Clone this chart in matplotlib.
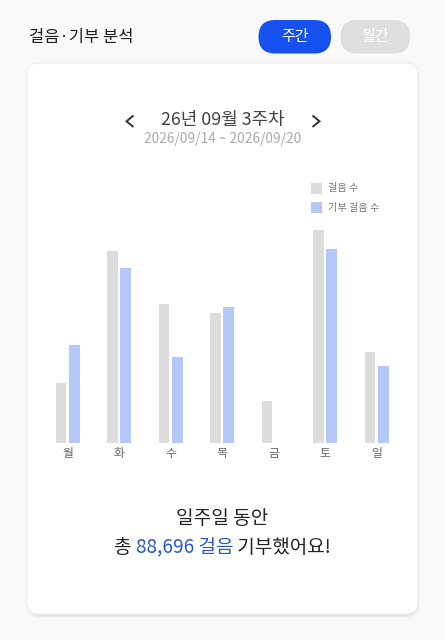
import matplotlib
matplotlib.use("Agg")
import matplotlib.pyplot as plt
from matplotlib.patches import FancyBboxPatch, Rectangle
import numpy as np

plt.rcParams['font.family'] = ['Noto Sans CJK KR', 'DejaVu Sans']

# ---- data ----
days = ["월", "화", "수", "목", "금", "토", "일"]
walk_steps = [6980, 22270, 16060, 15020, 4860, 24670, 10500]
donated_steps = [11350, 20230, 9990, 15710, 0, 22460, 8956]
legend_labels = ["걸음 수", "기부 걸음 수"]
title = "걸음·기부 분석"
week_title = "26년 09월 3주차"
date_range = "2026/09/14 ~ 2026/09/20"
total_text = "88,696 걸음"

W, H = 445, 640
fig = plt.figure(figsize=(W / 100, H / 100), dpi=100)
fig.patch.set_facecolor("#f9f9f9")

# background axes in pixel coordinates
bg = fig.add_axes([0, 0, 1, 1])
bg.set_xlim(0, W)
bg.set_ylim(H, 0)
bg.axis("off")

# card shadow + card
for i, a in enumerate([0.02, 0.03, 0.04]):
    s = 3 - i
    bg.add_patch(FancyBboxPatch((28 - s + 1, 64 - s + 2), 390 + 2 * s - 2, 551 + 2 * s - 2,
                                boxstyle="round,pad=0,rounding_size=13",
                                fc="black", ec="none", alpha=a))
bg.add_patch(FancyBboxPatch((27, 63), 391, 551, boxstyle="round,pad=0,rounding_size=12",
                            fc="white", ec="#ececec", lw=0.6))

# buttons
bg.add_patch(FancyBboxPatch((258.5, 20), 72.5, 33.5, boxstyle="round,pad=0,rounding_size=16.7",
                            fc="#1650ee", ec="none"))
bg.add_patch(FancyBboxPatch((340.5, 20), 69.5, 33.5, boxstyle="round,pad=0,rounding_size=16.7",
                            fc="#dedede", ec="none"))
bg.text(294.7, 37, "주간", color="white", fontsize=10.8, ha="center", va="center", fontweight="medium")
bg.text(375.3, 37, "월간", color="white", fontsize=10.8, ha="center", va="center", fontweight="medium")

# title
bg.text(29, 37.5, title, color="#1e1e1e", fontsize=11.9, ha="left", va="center", fontweight="medium")

# week header with chevrons
bg.text(222.5, 120.5, week_title, color="#444444", fontsize=12.9, ha="center", va="center")
bg.plot([133.5, 126.5, 133.5], [115.5, 121.3, 127], color="#333333", lw=1.4,
        solid_joinstyle="miter", solid_capstyle="butt")
bg.plot([312.5, 319.5, 312.5], [115.5, 121.3, 127], color="#333333", lw=1.4,
        solid_joinstyle="miter", solid_capstyle="butt")
bg.text(222.5, 139.5, date_range, color="#ababab", fontsize=9.9, ha="center", va="center")

# legend
bg.add_patch(Rectangle((310.5, 182.5), 11.5, 11.5, fc="#dcdcdc", ec="none"))
bg.add_patch(Rectangle((310.5, 201.5), 11.5, 11.5, fc="#b3c8f8", ec="none"))
bg.text(328.5, 188.5, legend_labels[0], color="#777777", fontsize=7.3, ha="left", va="center")
bg.text(328.5, 207.5, legend_labels[1], color="#777777", fontsize=7.3, ha="left", va="center")

# bottom text
bg.text(222.5, 518.5, "일주일 동안", color="#222222", fontsize=13.8, ha="center", va="center")
fig.canvas.draw()
r = fig.canvas.get_renderer()
parts = [("총 ", "#222222"), (total_text, "#2456cc"), (" 기부했어요!", "#222222")]
tmp = [bg.text(0, 547.5, p, fontsize=13.7, va="center", ha="left", color=c) for p, c in parts]
widths = [t.get_window_extent(r).width for t in tmp]
total_w = sum(widths)
x0 = 222.5 - total_w / 2
for t, w in zip(tmp, widths):
    t.set_x(x0)
    x0 += w

# bar chart axes: x group spacing 51.5px, baseline at y=443
ax_left, ax_right = 41.9, 402.4
base_y, top_y = 443, 225
ax = fig.add_axes([ax_left / W, 1 - base_y / H, (ax_right - ax_left) / W, (base_y - top_y) / H])
ax.set_facecolor("none")
x = np.arange(len(days))
bw = 0.208
ax.bar(x - 0.13, walk_steps, width=bw, color="#dcdcdc", label=legend_labels[0])
ax.bar(x + 0.13, donated_steps, width=bw, color="#b3c8f8", label=legend_labels[1])
ax.set_xlim(-0.5, 6.5)
ax.set_ylim(0, 218 * 115.8)
ax.set_xticks(x)
ax.set_xticklabels(days, color="#666666", fontsize=8.5)
ax.tick_params(axis="x", length=0, pad=3)
ax.set_yticks([])
for sp in ax.spines.values():
    sp.set_visible(False)

fig.savefig("out.png", dpi=100, facecolor=fig.get_facecolor())
